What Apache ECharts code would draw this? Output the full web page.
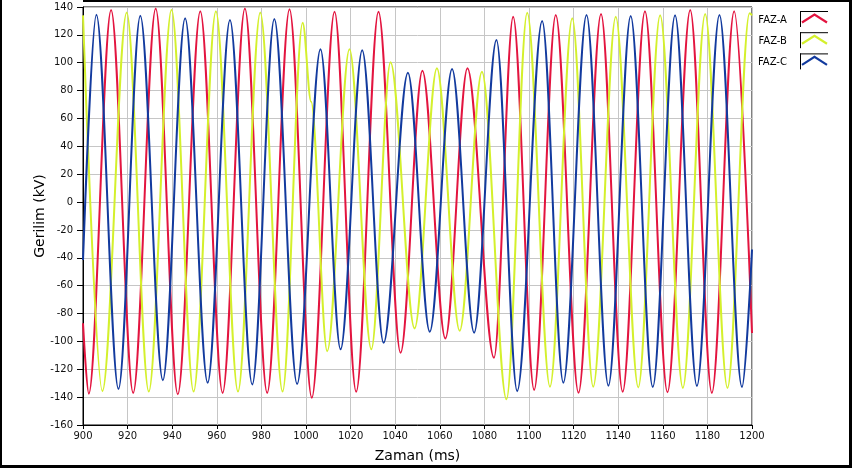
<!DOCTYPE html>
<html><head><meta charset="utf-8">
<script src="https://cdn.jsdelivr.net/npm/echarts@6/dist/echarts.min.js"></script>
<style>html,body{margin:0;padding:0;background:#fff}#c{width:852px;height:468px}</style>
</head><body><div id="c"></div>
<script>
// Axis settings (ms, kV)
const xMin = 900, xMax = 1200, xStep = 20;
const yMin = -160, yMax = 140, yStep = 20;
const seriesNames = ['FAZ-A', 'FAZ-B', 'FAZ-C'];
const seriesColors = ['#e3143f', '#d4f02c', '#123a9e'];

// Waveform turning points: [time ms, voltage kV]
const fazA = [
  [900,-87],[902.6,-137.5],[912.6,137.8],[922.5,-137],[932.6,139],[942.5,-138],
  [952.6,137],[962.6,-137],[972.6,139],[982.6,-137],[992.6,138.3],[1002.6,-140.5],
  [1012.8,136.6],[1022.5,-136.2],[1032.5,136.6],[1042.4,-108.2],[1052.2,94.3],
  [1062.5,-97.9],[1072.4,96],[1084.3,-111.8],[1092.9,133],[1102.3,-134.9],
  [1112,134.3],[1122.2,-136.9],[1132.3,135],[1142,-136.2],[1152,137],[1162.1,-136.5],
  [1172.3,137.8],[1182,-137],[1192,137],[1200,-94]
];
const fazB = [
  [900,134],[908.7,-135.7],[919.6,136],[929.5,-136],[939.7,138],[949.6,-136],
  [959.6,137],[969.5,-136],[979.5,136],[989.5,-136],[998.5,128.7],[1002.3,72],
  [1009.5,-107],[1019.5,109.6],[1029.3,-105.7],[1037.9,100.3],[1048.7,-90.7],
  [1058.7,96],[1068.9,-92.4],[1078.9,93.6],[1089.9,-141.6],[1099.2,135.9],
  [1109.4,-132.5],[1119.4,131.9],[1128.8,-132.5],[1138.9,133],[1149,-133],
  [1158.8,134],[1169,-133.4],[1179,135],[1189,-133.4],[1198.9,135.5],[1200,134]
];
const fazC = [
  [900,-41.6],[906,134.5],[915.9,-134.2],[925.7,133.8],[935.8,-127.8],[945.8,131.9],
  [955.9,-129.7],[965.9,130.7],[975.9,-130.9],[985.8,131.4],[996,-130.6],
  [1006.5,109.6],[1015.5,-105.7],[1025.2,109],[1034.8,-101],[1045.7,92.8],
  [1055.5,-93.1],[1065.5,95.5],[1075.4,-93.8],[1085.4,116.3],[1094.7,-135.7],
  [1105.9,130],[1115.4,-129.7],[1125.8,134.3],[1135.6,-131.8],[1145.6,133.5],
  [1155.5,-132.8],[1165.5,134],[1175.3,-132],[1185.4,134.3],[1195.5,-132.8],[1200,-34]
];
const seriesData = [fazA, fazB, fazC];

const FONT = 'DejaVu Sans';
const chart = echarts.init(document.getElementById('c'), null, {renderer: 'canvas'});

// legend swatch boxes (decoration)
const legendTop = 11, legendStep = 21.2;
const frames = [];
seriesNames.forEach((n, i) => {
  const y = legendTop + legendStep * i;
  frames.push({type: 'line', shape: {x1: 800, y1: y + 0.5, x2: 828, y2: y + 0.5}, style: {stroke: '#000', lineWidth: 1}, silent: true});
  frames.push({type: 'line', shape: {x1: 800.5, y1: y, x2: 800.5, y2: y + 16}, style: {stroke: '#000', lineWidth: 1}, silent: true});
  frames.push({type: 'polyline', shape: {points: [[802, y + 11.5], [814.5, y + 3.5], [827, y + 11.5]]},
    style: {stroke: seriesColors[i], lineWidth: 2.2, fill: null, lineJoin: 'miter'}, silent: true});
});

chart.setOption({
  animation: false,
  backgroundColor: '#fff',
  grid: {left: 83, right: 100, top: 7, bottom: 43, show: true, borderColor: '#000', borderWidth: 1, backgroundColor: '#fff'},
  legend: {
    orient: 'vertical', left: 758, top: 15, padding: 0, itemGap: 11.4, align: 'right',
    itemWidth: 26, itemHeight: 10,
    itemStyle: {opacity: 0}, lineStyle: {opacity: 0},
    textStyle: {fontFamily: FONT, fontSize: 10, color: '#000', padding: [0, 8, 0, 0]},
    data: seriesNames
  },
  xAxis: {
    type: 'value', min: xMin, max: xMax, interval: xStep,
    name: 'Zaman (ms)', nameLocation: 'middle', nameGap: 24, nameMoveOverlap: false,
    nameTextStyle: {fontFamily: FONT, fontSize: 14, color: '#000'},
    axisLine: {show: true, onZero: false, lineStyle: {color: '#000', width: 1}},
    axisTick: {show: true, length: 4, lineStyle: {color: '#000'}},
    axisLabel: {margin: 6, fontFamily: FONT, fontSize: 10, color: '#111', formatter: v => String(v)},
    splitLine: {show: true, lineStyle: {color: '#c6c6c6', width: 1}}
  },
  yAxis: {
    type: 'value', min: yMin, max: yMax, interval: yStep,
    name: 'Gerilim (kV)', nameLocation: 'middle', nameGap: 36, nameRotate: 90, nameMoveOverlap: false,
    nameTextStyle: {fontFamily: FONT, fontSize: 14, color: '#000'},
    axisLine: {show: true, onZero: false, lineStyle: {color: '#000', width: 1}},
    axisTick: {show: true, length: 6, lineStyle: {color: '#000'}},
    axisLabel: {margin: 10, fontFamily: FONT, fontSize: 10, color: '#111', formatter: v => String(v)},
    splitLine: {show: true, lineStyle: {color: '#c6c6c6', width: 1}}
  },
  series: seriesNames.map((n, i) => ({
    name: n, type: 'line', data: seriesData[i],
    smooth: 0.333, smoothMonotone: 'x', showSymbol: false, symbol: 'none',
    clip: true,
    lineStyle: {color: seriesColors[i], width: 2},
    itemStyle: {color: seriesColors[i]}
  })),
  graphic: [
    {type: 'rect', shape: {x: 0, y: 0, width: 2, height: 468}, style: {fill: '#000'}, silent: true},
    {type: 'rect', shape: {x: 0, y: 465, width: 852, height: 3}, style: {fill: '#000'}, silent: true},
    {type: 'rect', shape: {x: 849, y: 0, width: 3, height: 468}, style: {fill: '#000'}, silent: true},
    {type: 'rect', shape: {x: 83, y: 0, width: 769, height: 2}, style: {fill: '#000'}, silent: true}
  ].concat(frames)
});
</script></body></html>
